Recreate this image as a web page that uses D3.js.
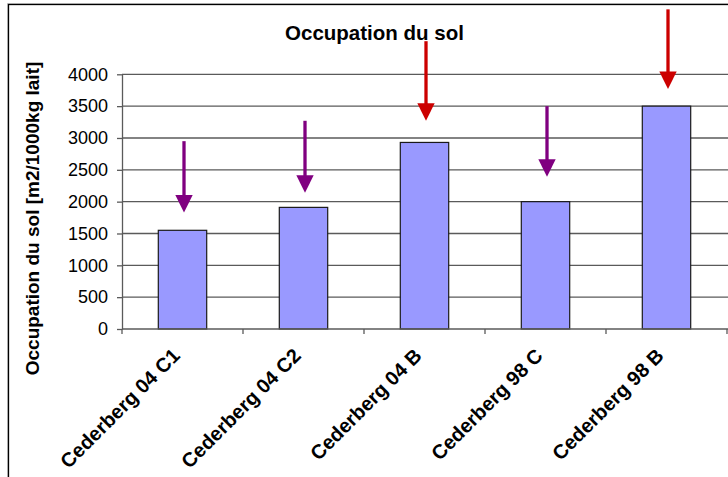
<!DOCTYPE html>
<html>
<head>
<meta charset="utf-8">
<script src="https://cdn.jsdelivr.net/npm/d3@7"></script>
<style>
  html, body { margin: 0; padding: 0; background: #fff; }
  svg { display: block; font-family: "Liberation Sans", Arial, sans-serif; }
</style>
</head>
<body>
<svg id="chart" width="728" height="477"></svg>
<script>
// Land occupation per farm, m2 per 1000 kg of milk
const categories = ["Cederberg 04 C1", "Cederberg 04 C2", "Cederberg 04 B", "Cederberg 98 C", "Cederberg 98 B"];
const values = [1550, 1910, 2930, 2000, 3500];
const yTicks = [0, 500, 1000, 1500, 2000, 2500, 3000, 3500, 4000];

// Annotation arrows above each bar: tail and tip heights in axis units
const arrowTail = [2950, 3270, 4520, 3500, 5020];
const arrowTip = [1830, 2140, 3270, 2390, 3770];
const arrowColor = ["#800080", "#800080", "#CC0000", "#800080", "#CC0000"];

const svg = d3.select("#chart");
const W = 728, H = 477;
const plotLeft = 122, plotRight = 727, plotTop = 74.3, plotBottom = 329;

// outer frame with a faint shadow edge
svg.append("rect").attr("x", 7.5).attr("y", 3.5).attr("width", W).attr("height", H)
  .attr("fill", "none").attr("stroke", "#c8c8c8").attr("stroke-width", 1);
svg.append("rect").attr("x", 8.5).attr("y", 4.5).attr("width", W).attr("height", H)
  .attr("fill", "#fff").attr("stroke", "#000").attr("stroke-width", 1.3);

const y = d3.scaleLinear().domain([0, 4000]).range([plotBottom, plotTop]);
const x = d3.scaleBand().domain(categories).range([plotLeft, plotRight])
  .paddingInner(0.6).paddingOuter(0.3);
const slot = d3.scaleLinear().domain([0, categories.length]).range([plotLeft, plotRight]);

// horizontal gridlines
svg.append("g").selectAll("line").data(yTicks.filter(d => d > 0)).join("line")
  .attr("x1", plotLeft).attr("x2", W)
  .attr("y1", d => y(d)).attr("y2", d => y(d))
  .attr("stroke", "#5a5a5a").attr("stroke-width", 1.3);

// bars
svg.append("g").selectAll("rect").data(values).join("rect")
  .attr("x", (d, i) => x(categories[i]))
  .attr("y", d => y(d))
  .attr("width", x.bandwidth())
  .attr("height", d => y(0) - y(d))
  .attr("fill", "#9999FF").attr("stroke", "#1a1a1a").attr("stroke-width", 1.2);

// y axis
const yAxis = svg.append("g").attr("transform", `translate(${plotLeft},0)`)
  .call(d3.axisLeft(y).tickValues(yTicks).tickFormat(d3.format("d"))
    .tickSize(5).tickSizeOuter(0).tickPadding(9));
yAxis.select(".domain").attr("stroke", "#5a5a5a").attr("stroke-width", 1.3);
yAxis.selectAll(".tick line").attr("stroke", "#5a5a5a").attr("stroke-width", 1.3);
yAxis.selectAll(".tick text").attr("font-size", 18).attr("fill", "#000")
  .attr("font-family", "Liberation Sans, Arial, sans-serif");

// x axis baseline and ticks between categories
svg.append("line").attr("x1", plotLeft).attr("x2", W).attr("y1", y(0)).attr("y2", y(0))
  .attr("stroke", "#5a5a5a").attr("stroke-width", 1.3);
svg.append("g").selectAll("line").data(d3.range(categories.length + 1)).join("line")
  .attr("x1", d => slot(d)).attr("x2", d => slot(d))
  .attr("y1", y(0)).attr("y2", y(0) + 5)
  .attr("stroke", "#5a5a5a").attr("stroke-width", 1.3);

// category labels, rotated
svg.append("g").selectAll("text").data(categories).join("text")
  .attr("transform", d => `translate(${x(d) + x.bandwidth() / 2 - 1.5},${y(0) + 28}) rotate(-45)`)
  .attr("text-anchor", "end")
  .attr("font-size", 20).attr("font-weight", "bold").attr("fill", "#000")
  .text(d => d);

// arrows
const arrows = svg.append("g");
categories.forEach((c, i) => {
  const cx = x(c) + x.bandwidth() / 2 + 1.5;
  const yTail = y(arrowTail[i]);
  const yTip = y(arrowTip[i]);
  const headLen = 17.5, headHalf = 8.7;
  arrows.append("line")
    .attr("x1", cx).attr("x2", cx)
    .attr("y1", yTail).attr("y2", yTip - headLen + 1)
    .attr("stroke", arrowColor[i]).attr("stroke-width", 3.3);
  arrows.append("path")
    .attr("d", `M${cx - headHalf},${yTip - headLen} L${cx + headHalf},${yTip - headLen} L${cx},${yTip} Z`)
    .attr("fill", arrowColor[i]);
});

// title
svg.append("text").attr("x", 374.5).attr("y", 40).attr("text-anchor", "middle")
  .attr("font-size", 20.5).attr("font-weight", "bold").attr("fill", "#000")
  .text("Occupation du sol");

// y axis title
svg.append("text")
  .attr("transform", `translate(39,218.5) rotate(-90)`)
  .attr("text-anchor", "middle")
  .attr("font-size", 19).attr("font-weight", "bold").attr("fill", "#000")
  .text("Occupation du sol [m2/1000kg lait]");
</script>
</body>
</html>
